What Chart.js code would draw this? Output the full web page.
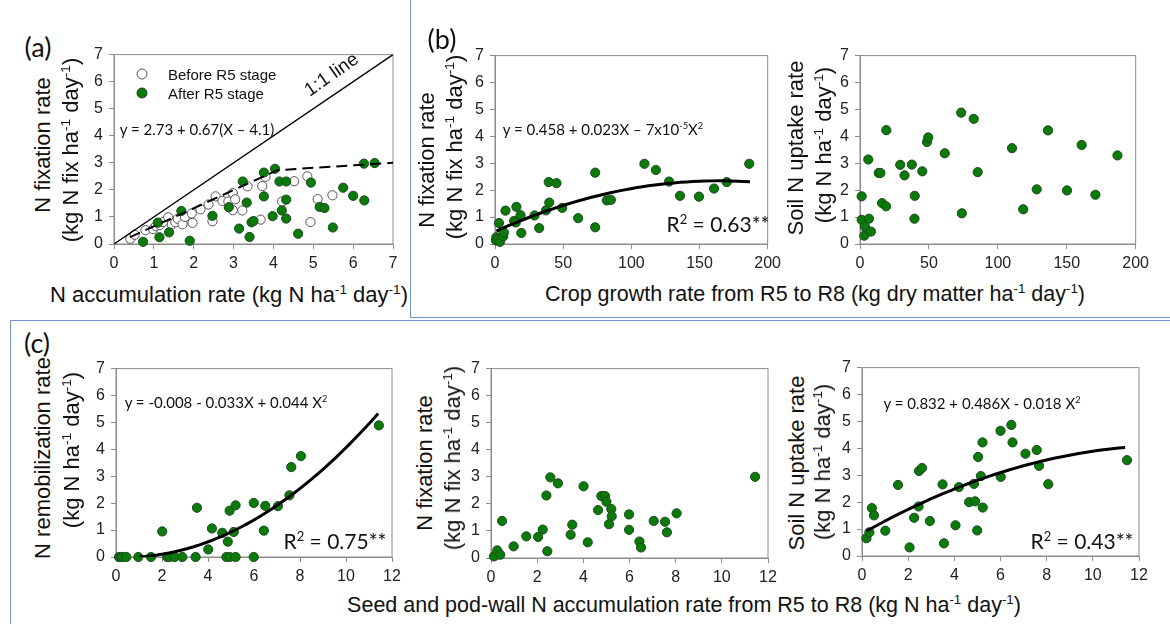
<!DOCTYPE html>
<html>
<head>
<meta charset="utf-8">
<script src="https://cdn.jsdelivr.net/npm/chart.js@4.4.0/dist/chart.umd.min.js"></script>
<style>
  body { margin: 0; background: #fff; }
  #fig { position: relative; width: 1170px; height: 624px; overflow: hidden;
         font-family: "Liberation Sans", Arial, sans-serif; color: #111; }
  #fig canvas { position: absolute; }
  .t { position: absolute; white-space: nowrap; line-height: 1; transform: translate(-50%, -50%); }
  .eq { font-family: Lato, "Open Sans", sans-serif; }
  sup { font-size: 62%; vertical-align: 0.6em; line-height: 0; }
  .box { position: absolute; border: 1.5px solid #7393d8; }
  .dot { position: absolute; width: 9px; height: 9px; border-radius: 50%; transform: translate(-50%, -50%); }
</style>
</head>
<body>
<div id="fig"></div>
<script>
// (a) N fixation vs N accumulation
const aBeforeX = [0.41,0.52,0.79,0.98,1.05,1.15,1.23,1.36,1.45,1.54,1.60,1.72,1.78,1.95,1.97,2.17,2.37,2.47,2.55,2.72,2.87,2.98,2.98,3.04,3.22,3.35,3.68,3.72,3.80,4.22,4.52,4.85,4.93,5.11,5.48];
const aBeforeY = [0.19,0.34,0.51,0.55,0.66,0.70,0.81,0.99,0.72,0.80,0.93,0.73,1.00,1.13,0.78,1.28,1.46,0.84,1.76,1.59,1.57,1.88,1.25,1.65,1.24,2.13,0.90,2.14,2.48,1.57,2.32,2.50,0.81,1.66,1.80];
const aAfterX = [0.73,1.10,1.14,1.38,1.69,1.90,2.47,2.88,3.23,3.14,3.33,3.40,3.45,3.50,3.76,3.76,3.98,4.04,4.15,4.21,4.32,4.32,4.32,4.62,4.94,5.16,5.28,5.49,5.75,6.00,6.27,6.28,6.54];
const aAfterY = [0.08,0.79,0.25,0.43,1.22,0.12,1.04,1.36,2.31,0.57,1.53,0.26,0.80,0.85,2.64,1.76,1.03,2.78,2.31,1.24,2.31,1.64,0.94,0.38,2.27,1.37,1.33,0.61,2.08,1.78,2.97,1.61,2.99];
const aFit = [2.73, 0.67, 4.1];      // y = 2.73 + 0.67(X - 4.1)
const aPlateauEnd = [7, 3.0];

// (b) vs crop growth rate
const bGrowth1 = [0.7,1.0,1.9,3.6,2.9,6.0,6.5,7.7,14.0,15.2,15.7,18.7,19.3,29.0,32.4,37.4,39.4,39.8,45.1,49.3,61.0,73.5,73.5,82.0,85.0,109.6,118.0,127.7,135.7,149.6,160.7,170.0,186.5];
const bFix = [0.13,0.25,0.18,0.08,0.78,0.28,0.43,1.24,0.86,0.80,1.38,1.07,0.41,1.06,0.59,1.25,2.30,1.54,2.26,1.34,0.96,2.65,0.62,1.62,1.64,2.98,2.75,2.32,1.79,1.76,2.06,2.30,2.98];
const bFixFit = [0.458, 0.023, -7e-5];
const bGrowth2 = [1.2,1.2,3.6,3.1,6.5,7.9,6.0,13.6,14.8,16.0,18.9,19.1,29.2,32.3,37.6,39.7,39.5,45.2,48.6,49.5,61.5,73.4,73.9,82.5,85.4,110.3,118.4,128.2,136.4,150.2,160.8,170.8,186.8];
const bSoil = [1.77,0.90,0.64,0.31,0.94,0.46,3.14,2.64,2.64,1.52,1.40,4.23,2.94,2.55,2.95,1.79,0.94,2.70,3.79,3.96,3.37,4.88,1.14,4.65,2.67,3.56,1.29,2.03,4.22,1.99,3.68,1.83,3.29];

// (c) vs seed and pod-wall N accumulation
const cSeed1 = [0.13,0.20,0.28,0.45,0.97,1.52,2.01,2.23,2.33,2.55,2.88,3.46,3.52,4.01,4.17,4.62,4.80,4.86,4.94,4.95,5.12,5.20,5.20,5.99,5.99,6.43,6.49,7.04,7.54,7.62,8.04,11.43];
const cRemob = [0,0,0,0,0,0,0.95,0,0,0,0,0,1.83,0.28,1.06,0.90,0,0.57,1.72,0,0.93,1.92,0,0,2.01,0.98,1.90,1.89,2.29,3.34,3.75,4.89];
const cRemobFit = [-0.008, -0.033, 0.044];
const cSeed2 = [0.13,0.27,0.40,0.48,0.98,1.53,2.04,2.24,2.40,2.44,2.57,2.90,3.45,3.52,4.01,4.19,4.64,4.78,4.94,5.00,5.21,5.23,5.11,5.98,5.98,6.43,6.50,7.05,7.54,7.62,8.04,11.44];
const cFix = [0.06,0.28,0.12,1.37,0.43,0.80,0.78,1.05,2.31,0.25,2.98,2.76,0.86,1.23,2.65,0.58,1.77,2.29,2.29,2.08,1.81,1.54,1.25,1.61,1.04,0.61,0.39,1.37,1.34,0.95,1.65,3.00];
const cSeed3 = [0.19,0.32,0.43,0.52,1.01,1.56,2.06,2.26,2.45,2.47,2.60,2.94,3.49,3.55,4.05,4.20,4.64,4.85,4.90,4.99,5.03,5.15,5.23,5.22,6.00,6.01,6.47,6.52,7.08,7.57,7.67,8.07,11.48];
const cSoil = [0.66,0.88,1.78,1.51,0.94,2.64,0.32,1.42,1.84,3.16,3.27,1.30,2.66,0.47,1.14,2.56,2.00,2.68,2.03,0.95,3.68,2.97,1.80,4.22,4.65,2.94,4.87,4.22,3.80,3.94,3.35,2.67,3.56];
const cSoilFit = [0.832, 0.486, -0.018];

const yTicks = [0, 7, 1];

const fig = document.getElementById('fig');
const GREEN = '#0a7a0a', GREEN_EDGE = '#1d4a1d', AXIS = '#8c8c8c';

function pts(xs, ys) { return xs.map((x, i) => ({ x: x, y: ys[i] })); }
function quad(c, x0, x1) {
  let out = [];
  for (let i = 0; i <= 40; i++) {
    let x = x0 + (x1 - x0) * i / 40;
    out.push({ x: x, y: c[0] + c[1] * x + c[2] * x * x });
  }
  return out;
}
function green(data) {
  return { data: data, backgroundColor: GREEN, borderColor: GREEN_EDGE, borderWidth: 1, pointRadius: 4.6, clip: false, order: 2 };
}
function curveSet(data, width, dash) {
  return { data: data, showLine: true, pointRadius: 0, borderColor: '#000', borderWidth: width, borderDash: dash || [], fill: false, order: 1 };
}

// grey frame round the plotting area
const frame = {
  id: 'frame',
  beforeDatasetsDraw(chart) {
    const a = chart.chartArea, ctx = chart.ctx;
    ctx.save();
    ctx.strokeStyle = AXIS;
    ctx.lineWidth = 1;
    ctx.strokeRect(a.left, a.top, a.right - a.left, a.bottom - a.top);
    ctx.restore();
  }
};

function panel(L, T, W, H, xMax, xStep, datasets) {
  let c = document.createElement('canvas');
  let cw = W + 60, ch = H + 40;
  c.width = cw; c.height = ch;
  c.style.left = (L - 45) + 'px';
  c.style.top = (T - 10) + 'px';
  fig.appendChild(c);
  new Chart(c, {
    type: 'scatter',
    data: { datasets: datasets },
    options: {
      responsive: false,
      animation: false,
      devicePixelRatio: 1,
      layout: { padding: { top: 10, right: 15, left: 0, bottom: 0 }, autoPadding: false },
      plugins: { legend: { display: false }, tooltip: { enabled: false } },
      scales: {
        x: {
          type: 'linear', min: 0, max: xMax,
          ticks: { stepSize: xStep, padding: 5, color: '#222', font: { size: 16 }, maxRotation: 0 },
          grid: { drawOnChartArea: false, tickLength: 5, color: AXIS },
          border: { color: AXIS },
          afterFit: s => { s.height = 30; }
        },
        y: {
          min: yTicks[0], max: yTicks[1],
          ticks: { stepSize: yTicks[2], padding: 6, color: '#222', font: { size: 16 } },
          grid: { drawOnChartArea: false, tickLength: 5, color: AXIS },
          border: { color: AXIS },
          afterFit: s => { s.width = 45; }
        }
      }
    },
    plugins: [frame]
  });
}

// (a)
let aLine = [0.4, aFit[2]].map(x => ({ x: x, y: aFit[0] + aFit[1] * (x - aFit[2]) }));
aLine.push({ x: aPlateauEnd[0], y: aPlateauEnd[1] });
panel(114, 49, 279, 195, 7, 1, [
  curveSet([{ x: 0, y: 0 }, { x: 7, y: 7 }], 1.3),
  curveSet(aLine, 2, [11, 6]),
  { data: pts(aBeforeX, aBeforeY), backgroundColor: '#fff', borderColor: '#555', borderWidth: 1, pointRadius: 4.6, clip: false, order: 3 },
  green(pts(aAfterX, aAfterY))
]);
// (b)
panel(495, 50, 276, 194, 200, 50, [curveSet(quad(bFixFit, 1, 187), 3), green(pts(bGrowth1, bFix))]);
panel(860, 50, 279, 194, 200, 50, [green(pts(bGrowth2, bSoil))]);
// (c)
panel(116, 363, 276, 194, 12, 2, [curveSet(quad(cRemobFit, 1, 11.4), 3), green(pts(cSeed1, cRemob))]);
panel(491, 363, 277, 195, 12, 2, [green(pts(cSeed2, cFix))]);
panel(862, 362, 277, 194, 12, 2, [curveSet(quad(cSoilFit, 0.2, 11.4), 3), green(pts(cSeed3, cSoil))]);

// texts
function text(html, x, y, size, cls, rot, left) {
  let d = document.createElement('div');
  d.className = 't ' + (cls || '');
  d.innerHTML = html;
  d.style.left = x + 'px';
  d.style.top = y + 'px';
  d.style.fontSize = size + 'px';
  if (rot) d.style.transform = 'translate(-50%, -50%) rotate(' + rot + 'deg)';
  if (left) d.style.transform = 'translate(0, -50%)';
  fig.appendChild(d);
  return d;
}
const unitN = '(kg N ha<sup>-1</sup> day<sup>-1</sup>)';
const unitFix = '(kg N fix ha<sup>-1</sup> day<sup>-1</sup>)';
const TS = 22;   // axis title size

text('(a)', 38, 46, 27, 'eq');
text('(b)', 442, 38, 27, 'eq');
text('(c)', 37, 342, 27, 'eq');

// (a) labels
text('N fixation rate', 43, 145, TS, '', -90);
text(unitFix, 71, 150, TS, '', -90);
text('N accumulation rate ' + unitN, 229, 295, TS);
text('y = 2.73 + 0.67(X \u2013 4.1)', 197, 129, 15, 'eq');
text('1:1 line', 331, 74, 19, '', -35);
let d1 = document.createElement('div'); d1.className = 'dot';
d1.style.cssText += 'left:142px;top:74px;background:#fff;border:1px solid #555;';
fig.appendChild(d1);
let d2 = document.createElement('div'); d2.className = 'dot';
d2.style.cssText += 'left:142px;top:93px;background:' + GREEN + ';border:1px solid ' + GREEN_EDGE + ';';
fig.appendChild(d2);
text('Before R5 stage', 168, 74, 15, '', 0, true);
text('After R5 stage', 168, 93, 15, '', 0, true);

// (b) labels
text('N fixation rate', 427, 160, TS, '', -90);
text(unitFix, 455, 147, TS, '', -90);
text('Soil N uptake rate', 796, 148, TS, '', -90);
text(unitN, 824, 145, TS, '', -90);
text('Crop growth rate from R5 to R8 (kg dry matter ha<sup>-1</sup> day<sup>-1</sup>)', 815, 295, 21.5);
text('y = 0.458 + 0.023X \u2013 7x10<sup>-5</sup>X<sup>2</sup>', 603, 129, 15, 'eq');
text('R<sup>2</sup> = 0.63**', 718, 223, 21, 'eq');

// (c) labels
text('N remobilization rate', 43, 458, TS, '', -90);
text(unitN, 72, 450, TS, '', -90);
text('N fixation rate', 425, 463, TS, '', -90);
text(unitFix, 453, 458, TS, '', -90);
text('Soil N uptake rate', 797, 463, TS, '', -90);
text(unitN, 823, 462, TS, '', -90);
text('Seed and pod-wall N accumulation rate from R5 to R8 ' + unitN, 684, 606, 21.5);
text('y = -0.008 - 0.033X + 0.044 X<sup>2</sup>', 226, 402, 15, 'eq');
text('R<sup>2</sup> = 0.75**', 335, 540, 21, 'eq');
text('y = 0.832 + 0.486X - 0.018 X<sup>2</sup>', 982, 403, 15, 'eq');
text('R<sup>2</sup> = 0.43**', 1082, 540, 21, 'eq');

// blue frames round (b) and (c)
let bb = document.createElement('div'); bb.className = 'box';
bb.style.cssText += 'left:410px;top:-3px;width:780px;height:319px;';
fig.appendChild(bb);
let cb = document.createElement('div'); cb.className = 'box';
cb.style.cssText += 'left:10px;top:320px;width:1180px;height:320px;';
fig.appendChild(cb);
</script>
</body>
</html>
